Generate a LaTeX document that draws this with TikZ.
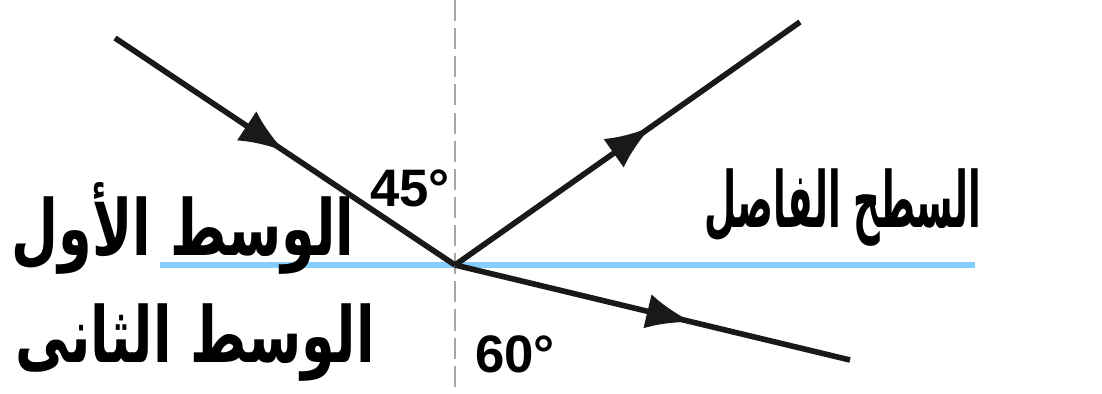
\documentclass[tikz,border=0pt]{standalone}
\usepackage{fontspec}
\newfontfamily\arabicfont[Script=Arabic]{DejaVu Sans}
\setmainfont{Liberation Sans}
\TeXXeTstate=1
\usetikzlibrary{decorations.markings,arrows.meta}
\begin{document}
\begin{tikzpicture}[x=0.01cm,y=-0.01cm,
  ray/.style={line width=1.6pt,black!90,
    postaction={decorate},
    decoration={markings,mark=at position #1 with {\arrow{Latex[length=13pt,width=10pt]}}}},
  lbl/.style={font=\arabicfont\bfseries\fontsize{22}{26}\selectfont,inner sep=0pt},
  ang/.style={font=\bfseries\fontsize{15}{18}\selectfont,inner sep=0pt}]
\useasboundingbox (0,0) rectangle (1102,394);
\coordinate (O) at (455,265);
\coordinate (I) at (115,38);
\coordinate (R) at (800,22);
\coordinate (T) at (850,360);
\coordinate (N1) at (455,0);
\coordinate (N2) at (455,394);
\coordinate (S1) at (160,265);
\coordinate (S2) at (975,265);
\draw[gray!70,dashed,line width=0.6pt,dash pattern=on 6pt off 2pt] (N1) -- (N2);
\draw[blue!40!cyan!60,line width=1.5pt,opacity=0.8] (S1) -- (S2);
\draw[ray=0.5] (I) -- (O);
\draw[ray=0.57] (O) -- (R);
\draw[ray=0.6] (O) -- (T);
\node[lbl,xscale=0.7] (m1) at (183,228) {\beginR الوسط الأول\endR};
\node[lbl,xscale=0.7] (m2) at (195,343) {\beginR الوسط الثانى\endR};
\node[lbl,xscale=0.48] (s) at (843,208) {\beginR السطح الفاصل\endR};
\node[ang] (a1) at (410,188) {45°};
\node[ang] (a2) at (515,354) {60°};
\end{tikzpicture}
\end{document}
